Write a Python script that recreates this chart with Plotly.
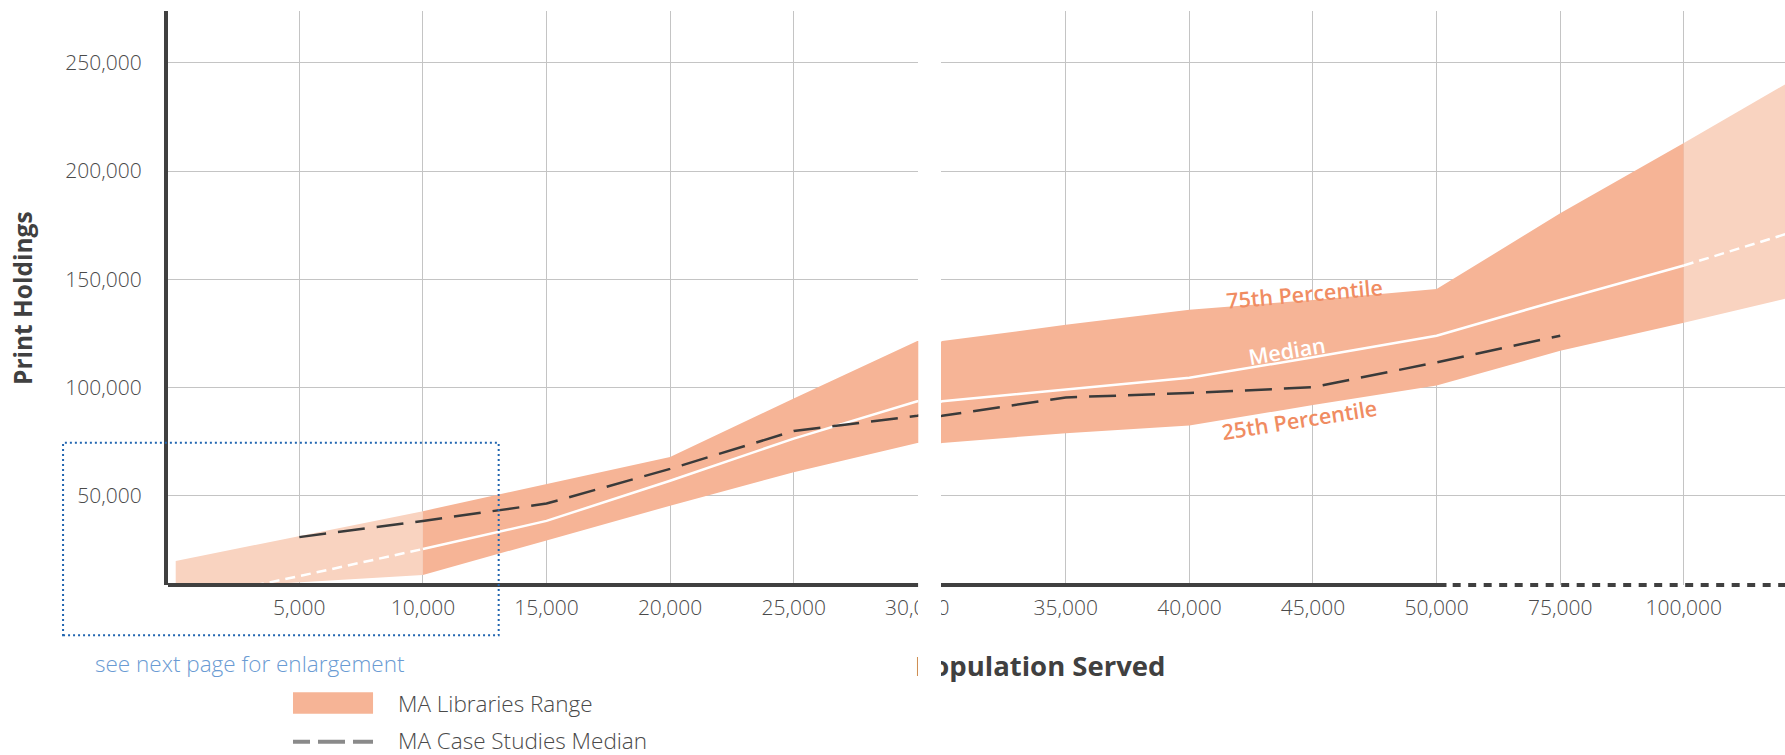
import numpy as np
import plotly.graph_objects as go

# values (population served -> print holdings)
population = [0, 5000, 10000, 15000, 20000, 25000, 30000, 35000, 40000,
              45000, 50000, 75000, 100000, 125000]
pct75 = [20000, 31500, 43000, 55500, 68000, 95000, 121500, 129000, 136000,
         140500, 145500, 180500, 213000, 246000]
pct25 = [6800, 10200, 13500, 29500, 45500, 61000, 74500, 79000, 82500,
         92000, 101000, 117000, 130000, 143500]
median = [1000, 13000, 25500, 38500, 57000, 76500, 93700, 99000, 104600,
          114000, 124000, 140500, 156400, 174000]

case_population = [5000, 10000, 15000, 20000, 25000, 30000, 35000, 40000,
                   45000, 50000, 75000]
case_median = [31000, 38500, 46500, 62500, 80000, 87000, 95500, 97500,
               100200, 111700, 124000]

x_ticks = [5000, 10000, 15000, 20000, 25000, 30000, 35000, 40000, 45000,
           50000, 75000, 100000]
y_ticks = [50000, 100000, 150000, 200000, 250000]

# axis is linear up to 50,000, after that one grid step per 25,000
SCALE_POP = [0, 50000, 75000, 100000, 125000]
SCALE_POS = [0, 50000, 55000, 60000, 65000]

FONT = "Open Sans"
DARK = "#404040"
BAND = "#f6b496"
BAND_LIGHT = "#f9d3c0"
ORANGE = "#f08c62"
GRID = "#c4c4c4"

LEFT_RANGE = [-312, 30040]
RIGHT_RANGE = [29950, 64092]


def xpos(v):
    return np.interp(v, SCALE_POP, SCALE_POS)


def segment(lo, hi):
    return [i for i, p in enumerate(population) if lo <= p <= hi]


def add_panel(fig, xa):
    pos = xpos(population)
    for lo, hi, col in [(0, 10000, BAND_LIGHT), (10000, 100000, BAND),
                        (100000, 125000, BAND_LIGHT)]:
        idx = segment(lo, hi)
        xs = [pos[i] for i in idx]
        up = [pct75[i] for i in idx]
        dn = [pct25[i] for i in idx]
        fig.add_trace(go.Scatter(x=xs + xs[::-1], y=up + dn[::-1], fill="toself",
                                 fillcolor=col, line=dict(width=0), mode="lines",
                                 hoverinfo="skip", xaxis=xa, yaxis="y"))
    for lo, hi, dash in [(0, 10000, "10px,6px"), (10000, 100000, "solid"),
                         (100000, 125000, "10px,6px")]:
        idx = segment(lo, hi)
        fig.add_trace(go.Scatter(x=[pos[i] for i in idx], y=[median[i] for i in idx],
                                 mode="lines", line=dict(color="white", width=2.5, dash=dash),
                                 xaxis=xa, yaxis="y"))
    fig.add_trace(go.Scatter(x=xpos(case_population), y=case_median, mode="lines",
                             line=dict(color="#3a3a3a", width=2.5, dash="27px,12px"),
                             xaxis=xa, yaxis="y"))


fig = go.Figure()
add_panel(fig, "x")
add_panel(fig, "x2")

tick_font = dict(family=FONT, size=21, color="#4a4a4a", weight=300)
tick_pos = xpos(x_ticks)
tick_txt = [f"{t:,}" for t in x_ticks]

xcommon = dict(showgrid=True, gridcolor=GRID, gridwidth=1, zeroline=False,
               showline=False, ticks="", tickfont=tick_font, anchor="y",
               ticklabelstandoff=8, automargin=False)

fig.update_layout(
    width=1785, height=755, autosize=False,
    margin=dict(l=168, r=0, t=11, b=170, autoexpand=False),
    paper_bgcolor="white", plot_bgcolor="white",
    showlegend=False,
    xaxis=dict(domain=[0, 0.4640], range=LEFT_RANGE,
               tickvals=[p for p in tick_pos if p <= LEFT_RANGE[1]],
               ticktext=[t for p, t in zip(tick_pos, tick_txt) if p <= LEFT_RANGE[1]],
               **xcommon),
    # 30,000 is labelled once, on the left panel; the gap cuts through it
    xaxis2=dict(domain=[0.4780, 1], range=RIGHT_RANGE,
                tickvals=[p for p in tick_pos if p > 30000],
                ticktext=[t for p, t in zip(tick_pos, tick_txt) if p > 30000],
                **xcommon),
    yaxis=dict(domain=[0, 1], range=[8900, 273900], tickvals=y_ticks,
               ticktext=[f"{t:,}" for t in y_ticks], tickfont=tick_font,
               showgrid=True, gridcolor=GRID, gridwidth=1, zeroline=False,
               showline=True, linewidth=4, linecolor=DARK, ticks="",
               ticklabelstandoff=18, automargin=False),
)

# x axis lines: solid, then dotted where the scale is compressed
fig.add_shape(type="line", xref="x", yref="paper", x0=LEFT_RANGE[0], x1=LEFT_RANGE[1],
              y0=0, y1=0, line=dict(color=DARK, width=4))
fig.add_shape(type="line", xref="x2", yref="paper", x0=RIGHT_RANGE[0], x1=50400,
              y0=0, y1=0, line=dict(color=DARK, width=4))
fig.add_shape(type="line", xref="x2", yref="paper", x0=50650, x1=RIGHT_RANGE[1],
              y0=0, y1=0, line=dict(color=DARK, width=4, dash="8px,7.5px"))

# enlargement box
fig.add_shape(type="rect", xref="paper", yref="paper", x0=-0.0649, x1=0.2045,
              y0=-0.0876, y1=0.2479, line=dict(color="#2065b0", width=2, dash="2px,3px"))

# legend
fig.add_shape(type="rect", xref="paper", yref="paper", x0=0.0773, x1=0.1268,
              y0=-0.2242, y1=-0.1869, fillcolor=BAND, line=dict(width=0))
fig.add_shape(type="line", xref="paper", yref="paper", x0=0.0773, x1=0.1268,
              y0=-0.2730, y1=-0.2730,
              line=dict(color="#8a8a8a", width=4, dash="17px,8px,27px,8px,20px,60px"))

label_font = dict(family=FONT, size=22.5, color="#4a4a4a", weight=300)
fig.add_annotation(text="MA Libraries Range", xref="paper", yref="paper", x=0.1408,
                   y=-0.2056, xanchor="left", yanchor="middle", showarrow=False,
                   font=label_font)
fig.add_annotation(text="MA Case Studies Median", xref="paper", yref="paper", x=0.1408,
                   y=-0.2715, xanchor="left", yanchor="middle", showarrow=False,
                   font=label_font)
fig.add_annotation(text="see next page for enlargement", xref="paper", yref="paper",
                   x=-0.0464, y=-0.1376, xanchor="left", yanchor="middle", showarrow=False,
                   font=dict(family=FONT, size=22.5, color="#6a9bd3", weight=300))

# axis titles
fig.add_annotation(text="Print Holdings", xref="paper", yref="paper", x=-0.0903, y=0.5,
                   xanchor="center", yanchor="middle", textangle=-90, showarrow=False,
                   font=dict(family=FONT, size=24.5, color=DARK, weight=700))
fig.add_annotation(text="Population Served", xref="paper", yref="paper", x=0.5396,
                   y=-0.1394, xanchor="center", yanchor="middle", showarrow=False,
                   font=dict(family=FONT, size=27.5, color=DARK, weight=700))

# band labels
band_font = dict(family=FONT, size=21.5, color=ORANGE, weight=600)
fig.add_annotation(text="75th Percentile", xref="x2", yref="y", x=44675, y=143570,
                   xanchor="center", yanchor="middle",
                   textangle=-5, showarrow=False, font=band_font)
fig.add_annotation(text="Median", xref="x2", yref="y", x=43960, y=117070,
                   xanchor="center", yanchor="middle",
                   textangle=-9.5, showarrow=False, font=dict(band_font, color="white"))
fig.add_annotation(text="25th Percentile", xref="x2", yref="y", x=44440, y=85080,
                   xanchor="center", yanchor="middle",
                   textangle=-9, showarrow=False, font=band_font)

# white gap of the broken axis, cutting through the labels below it
fig.add_annotation(text="&nbsp;", xref="paper", yref="paper", x=0.4710, y=-0.1028,
                   xanchor="center", yanchor="middle", width=23, height=115,
                   bgcolor="white", borderpad=0, borderwidth=0, showarrow=False)

fig.write_html("out.html", config={"displayModeBar": False},
               post_script="document.body.style.margin='0';")
